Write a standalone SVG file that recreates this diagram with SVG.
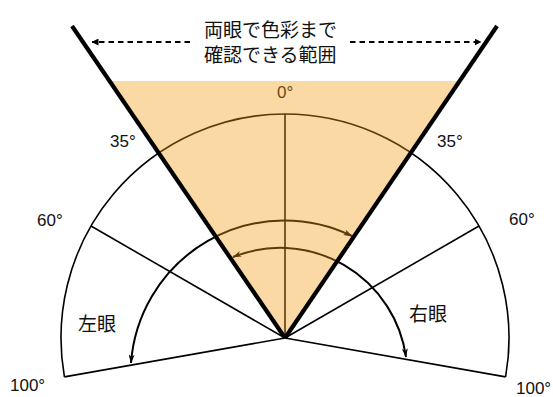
<svg xmlns="http://www.w3.org/2000/svg" width="553" height="397" viewBox="0 0 553 397">
  <style>
    .thin { fill: none; stroke: #000; stroke-width: 1.6; }
    .arrow { fill: none; stroke: #000; stroke-width: 2; }
    .bold { fill: none; stroke: #000; stroke-width: 4.2; stroke-linecap: butt; }
    .dash { fill: none; stroke: #000; stroke-width: 2; stroke-dasharray: 5.5 4; }
    .deg { font-family: "Liberation Sans", Arial, sans-serif; font-size: 17px; fill: #111; }
    .jp { font-family: "Liberation Sans", "Noto Sans CJK JP", sans-serif; font-size: 19px; fill: #111; }
  </style>
  <defs>
    <marker id="ah" viewBox="0 0 9 6" refX="8.5" refY="3" markerWidth="9" markerHeight="6" markerUnits="userSpaceOnUse" orient="auto-start-reverse">
      <path d="M0,0 L9,3 L0,6 L2.5,3 z" fill="#000"/>
    </marker>
    <marker id="dh" viewBox="0 0 7 7" refX="6.5" refY="3.5" markerWidth="7" markerHeight="7" markerUnits="userSpaceOnUse" orient="auto-start-reverse">
      <path d="M0,0 L7,3.5 L0,7 z" fill="#000"/>
    </marker>
  </defs>
  <rect width="553" height="397" fill="#fff"/>

  <g id="connectors">
    <path class="thin" d="M 64.4 376.9 A 224 224 0 1 1 505.6 376.9"/>
    <line class="thin" x1="285" y1="338" x2="285" y2="114"/>
    <line class="thin" x1="285" y1="338" x2="91" y2="226"/>
    <line class="thin" x1="285" y1="338" x2="479" y2="226"/>
    <line class="thin" x1="285" y1="338" x2="64.4" y2="376.9"/>
    <line class="thin" x1="285" y1="338" x2="505.6" y2="376.9"/>
    <path id="left-eye-arc" class="arrow" d="M 352 236 A 154 154 0 0 0 131 363" marker-start="url(#ah)" marker-end="url(#ah)"/>
    <path id="right-eye-arc" class="arrow" d="M 233 257 A 127 127 0 0 1 406 357" marker-start="url(#ah)" marker-end="url(#ah)"/>
  </g>

  <g id="label-0"><text class="deg" x="277" y="98">0°</text></g>

  <g id="color-field">
    <polygon points="109,81 461,81 285,338" fill="#F59A10" fill-opacity="0.38"/>
  </g>

  <g id="binocular-limits">
    <line class="bold" x1="72" y1="26" x2="285" y2="338"/>
    <line class="bold" x1="497" y1="26" x2="285" y2="338"/>
  </g>

  <g id="range-arrow">
    <line class="dash" x1="190" y1="42" x2="92" y2="42" marker-end="url(#dh)"/>
    <line class="dash" x1="350" y1="42" x2="481" y2="42" marker-end="url(#dh)"/>
  </g>

  <g id="title">
    <text class="jp" x="204" y="37">両眼で色彩まで</text>
    <text class="jp" x="204" y="61.5">確認できる範囲</text>
  </g>

  <g id="labels">
    <text class="deg" x="110" y="147">35°</text>
    <text class="deg" x="437" y="147">35°</text>
    <text class="deg" x="37" y="225.5">60°</text>
    <text class="deg" x="509" y="225">60°</text>
    <text class="deg" x="10" y="390.5">100°</text>
    <text class="deg" x="516" y="394">100°</text>
  </g>

  <g id="left-eye"><text class="jp" x="78" y="330.5">左眼</text></g>
  <g id="right-eye"><text class="jp" x="409" y="320.5">右眼</text></g>
</svg>
